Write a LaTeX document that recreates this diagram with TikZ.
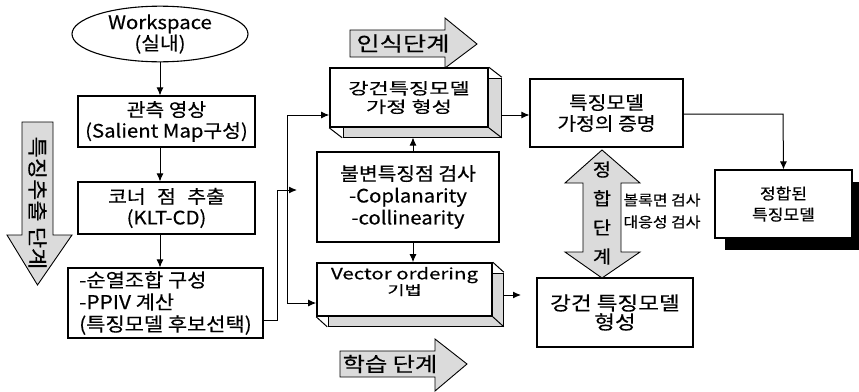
\documentclass[tikz,border=0pt]{standalone}
\usepackage{fontspec}
\setmainfont{Noto Sans CJK KR}[FakeStretch=1.1,FakeBold=0.4]
\usetikzlibrary{shapes.geometric,arrows.meta,calc}
\newcommand{\fs}[2]{\fontsize{#1}{#2}\selectfont}
\newcommand{\hstretch}[2]{\scalebox{#1}[1]{#2}}
\begin{document}
\begin{tikzpicture}[x=1pt,y=-1pt,
  line width=1pt,
  box/.style={draw,line width=1.1pt,rectangle,inner sep=0pt,align=center},
  frontbox/.style={draw,line width=1.6pt,fill=white,rectangle,inner sep=0pt,align=center},
  arr/.style={-{Latex[length=8pt,width=7pt]}},
  bigarrow/.style={draw,line width=0.9pt,fill=gray!28},
  sideface/.style={draw,line width=1pt,fill=gray!30}
]
\useasboundingbox (0,0) rectangle (859,391);

% ---------- left column ----------
\node[draw,ellipse,line width=1.1pt,minimum width=176pt,minimum height=48pt,inner sep=0pt,align=center,
      font=\fs{18.5}{21}] (ws) at (160,34) {Workspace\\(실내)};
\node[box,minimum width=177pt,minimum height=51pt,font=\fs{18.5}{21}] (b1) at (166.5,121.5) {관측 영상\\(Salient Map구성)};
\node[box,minimum width=177pt,minimum height=52pt,font=\fs{18.5}{21}] (b2) at (166.5,208)
  {코너\hspace{7pt} 점\hspace{7pt} 추출\\(KLT-CD)};
\node[box,minimum width=195pt,minimum height=70pt,align=left,font=\fs{19}{22}] (b3) at (165.5,303)
  {-순열조합 구성\\-PPIV 계산\\(특징모델 후보선택)};

\draw[arr] (ws.south) -- (ws.south |- b1.north);
\draw[arr] (b1.south -| ws.south) -- (b2.north -| ws.south);
\draw[arr] (b2.south -| ws.south) -- (b3.north -| ws.south);

% left stage arrow
\path[bigarrow] (22,122) -- (53,122) -- (53,235) -- (72,235) -- (37.5,285) -- (7,235) -- (22,235) -- cycle;
\node[font=\fs{20}{20},rotate=-90,inner sep=0pt] (stage1) at (37.5,203) {\hstretch{1.05}{특징추출 단계}};

% ---------- middle column ----------
% 3D box 1
\path[sideface] (343,78) -- (501,78) -- (501,137) -- (343,137) -- cycle;
\node[frontbox,minimum width=158pt,minimum height=59pt,font=\fs{16}{18.5}] (d1) at (409,97.5)
  {\hstretch{1.25}{강건특징모델}\\\hstretch{1.25}{가정 형성}};
\draw[line width=1pt] (d1.north east) -- ++(13,10) (d1.south east) -- ++(13,10) (d1.south west) -- ++(13,10);

% check box
\node[box,minimum width=182pt,minimum height=90pt,font=\fs{18.5}{22}] (c) at (408,197)
  {불변특징점 검사\\-Coplanarity\\-collinearity};

% 3D box 2
\path[sideface] (328,273) -- (503,273) -- (503,326) -- (328,326) -- cycle;
\node[frontbox,minimum width=175pt,minimum height=53pt] (d2) at (404.5,289.5)
  {\fs{15.5}{14}\hstretch{1.2}{Vector ordering}\\\fs{13}{14}\hstretch{1.3}{기법}\\[5pt]};
\draw[line width=1pt] (d2.north east) -- ++(11,10) (d2.south east) -- ++(11,10) (d2.south west) -- ++(11,10);

% stage arrows top and bottom
\path[bigarrow] (350,30) -- (445,30) -- (445,18) -- (477,44) -- (445,68) -- (445,57) -- (350,57) -- cycle;
\node[font=\fs{20}{20},inner sep=0pt] (stage2) at (403,43.5) {\hstretch{1.15}{인식단계}};
\path[bigarrow] (340,351) -- (435,351) -- (435,339) -- (467,364) -- (435,391) -- (435,377) -- (340,377) -- cycle;
\node[font=\fs{20}{20},inner sep=0pt] (stage3) at (390,364) {\hstretch{1.1}{학습 단계}};

% connectors from left column
\coordinate (j0) at (277,320);
\coordinate (j1) at (277,190);
\coordinate (j2) at (297,190);
\coordinate (jt) at (287,115);
\coordinate (jb) at (287,303);
\draw (b3.east |- j0) -- (j0) -- (j1);
\draw[arr] (j1) -- (j2);
\draw (jt) -- (jb);
\draw[arr] (jt) -- (jt -| d1.west);
\draw[arr] (jb) -- (jb -| d2.west);

\coordinate (d1b) at (413,137.5);
\draw[arr] (c.north -| d1b) -- (d1b);
\draw[arr] (c.south -| d1b) -- (d2.north -| d1b);

% ---------- right part ----------
\node[box,minimum width=153pt,minimum height=68pt,font=\fs{18.5}{21}] (e) at (606.5,113) {특징모델\\가정의 증명};
\node[box,minimum width=156pt,minimum height=69pt,font=\fs{19}{19}] (g) at (615,312.5)
  {\hstretch{1.08}{강건 특징모델}\\\hstretch{1.08}{형성}};
\fill[black] (725,182) rectangle (860,250);
\node[box,fill=white,minimum width=137pt,minimum height=68pt,font=\fs{15.5}{21}] (f) at (783.5,204) {정합된\\특징모델};

\coordinate (d1r) at (502,115);
\draw[arr] (d1r) -- (d1r -| e.west);
\coordinate (d2r) at (503,295);
\coordinate (d2t) at (521,295);
\draw[arr] (d2r) -- (d2t);
\coordinate (ec) at (783,114);
\draw[arr] (e.east |- ec) -- (ec) -- (f.north);

% double stage arrow
\path[bigarrow] (602,150) -- (640,183) -- (621,183) -- (621,252) -- (640,252) -- (602,278)
   -- (565,252) -- (583,252) -- (583,183) -- (565,183) -- cycle;
\node[align=center,inner sep=0pt,font=\fs{18}{29}] (stage4) at (602,213) {정\\합\\단\\계};
\node[align=left,inner sep=0pt,anchor=west,font=\fs{14.5}{22}] (lbl) at (623,211)
  {볼록면 검사\\대응성 검사};
\end{tikzpicture}
\end{document}
